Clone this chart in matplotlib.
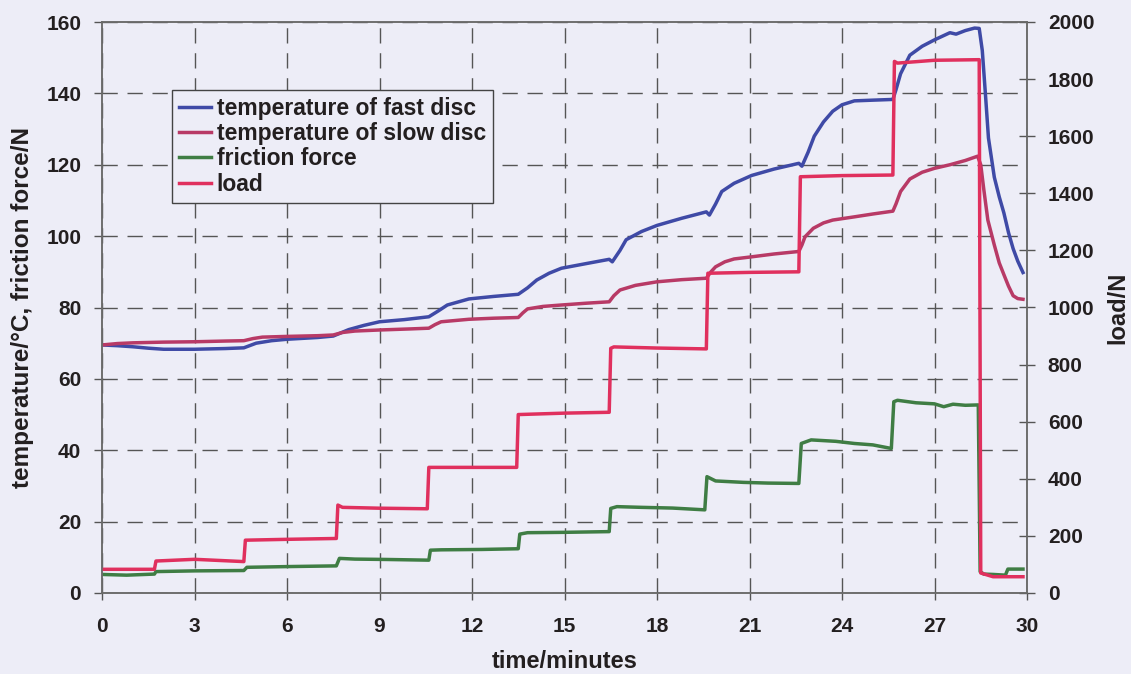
import matplotlib
matplotlib.use("Agg")
import matplotlib.pyplot as plt

# ---- data -------------------------------------------------------------
# time in minutes
t_fast = [0, 0.5, 1.0, 1.5, 2.0, 3.0, 4.0, 4.6, 5.0, 5.5, 6.0, 7.0, 7.5, 8.0, 8.5, 9.0,
          9.8, 10.6, 10.9, 11.2, 11.9, 12.7, 13.5, 13.8, 14.1, 14.5, 14.9, 15.7, 16.45,
          16.55, 16.8, 17.0, 17.5, 18.0, 18.8, 19.6, 19.7, 19.9, 20.1, 20.5, 21.07, 21.8,
          22.6, 22.7, 22.9, 23.1, 23.4, 23.7, 24.0, 24.4, 25.0, 25.65, 25.75, 25.9, 26.2,
          26.6, 27.0, 27.5, 27.7, 28.0, 28.3, 28.45, 28.55, 28.65, 28.75, 28.94, 29.1,
          29.25, 29.4, 29.55, 29.7, 29.87]
temp_fast = [69.5, 69.3, 69.0, 68.6, 68.3, 68.3, 68.5, 68.7, 70.0, 70.7, 71.1, 71.6, 72.0,
             73.8, 75.0, 76.0, 76.6, 77.4, 79.0, 80.7, 82.4, 83.1, 83.7, 85.5, 87.7, 89.6,
             91.0, 92.3, 93.5, 92.8, 96.0, 99.0, 101.3, 103.0, 105.0, 106.8, 105.9, 109.0,
             112.5, 114.8, 117.0, 118.8, 120.4, 119.6, 123.5, 128.0, 132.0, 135.0, 136.8,
             137.9, 138.1, 138.3, 141.0, 145.5, 150.7, 153.2, 155.0, 157.0, 156.6, 157.6,
             158.3, 158.2, 152.0, 140.0, 127.5, 116.5, 111.0, 106.5, 101.0, 96.5, 93.0, 89.8]

t_slow = [0, 0.5, 1.0, 2.0, 3.0, 4.0, 4.6, 4.9, 5.2, 6.0, 7.0, 7.5, 7.8, 8.2, 9.0, 10.0,
          10.6, 10.8, 11.0, 11.9, 12.7, 13.5, 13.65, 13.8, 14.3, 14.9, 15.7, 16.45, 16.6,
          16.8, 17.3, 18.0, 18.8, 19.6, 19.75, 19.9, 20.2, 20.5, 21.07, 21.8, 22.6, 22.7,
          22.8, 23.07, 23.4, 23.7, 24.4, 25.0, 25.65, 25.75, 25.9, 26.2, 26.6, 27.0, 27.5,
          28.0, 28.4, 28.5, 28.6, 28.73, 28.94, 29.1, 29.26, 29.4, 29.55, 29.7, 29.87]
temp_slow = [69.5, 69.9, 70.1, 70.3, 70.4, 70.6, 70.7, 71.3, 71.7, 71.9, 72.1, 72.3, 73.0,
             73.4, 73.7, 74.0, 74.2, 75.2, 76.0, 76.7, 77.0, 77.2, 78.5, 79.6, 80.3, 80.7,
             81.2, 81.6, 83.3, 84.9, 86.2, 87.2, 87.8, 88.2, 90.0, 91.4, 92.8, 93.6, 94.2,
             95.0, 95.7, 97.5, 99.8, 102.2, 103.7, 104.5, 105.4, 106.2, 107.0, 109.0, 112.5,
             116.0, 117.9, 119.0, 120.0, 121.2, 122.4, 120.0, 113.0, 104.5, 97.5, 92.5, 89.0,
             86.0, 83.3, 82.5, 82.3]

t_fric = [0, 0.8, 1.7, 1.75, 3.0, 4.6, 4.7, 6.0, 7.6, 7.7, 8.2, 9.2, 10.6, 10.65, 11.0,
          12.3, 13.5, 13.55, 13.8, 15.0, 16.45, 16.5, 16.7, 17.5, 18.5, 19.55, 19.62, 19.9,
          20.8, 21.6, 22.6, 22.68, 23.0, 23.8, 24.4, 25.0, 25.3, 25.6, 25.68, 25.8, 26.4,
          27.0, 27.3, 27.6, 28.0, 28.42, 28.48, 28.6, 28.9, 29.3, 29.38, 29.87]
friction = [5.2, 5.0, 5.3, 6.0, 6.2, 6.3, 7.2, 7.4, 7.6, 9.7, 9.5, 9.4, 9.2, 12.0, 12.1,
            12.2, 12.4, 16.5, 16.9, 17.0, 17.2, 23.7, 24.2, 24.0, 23.8, 23.3, 32.6, 31.4,
            31.0, 30.8, 30.7, 41.9, 42.9, 42.5, 41.9, 41.5, 41.0, 40.5, 53.6, 54.0, 53.3,
            53.0, 52.2, 52.9, 52.6, 52.7, 6.0, 5.3, 5.2, 5.0, 6.7, 6.7]

t_load = [0, 1.7, 1.75, 3.0, 4.6, 4.65, 6.0, 7.6, 7.65, 7.8, 9.0, 10.55, 10.6, 12.0, 13.45,
          13.5, 15.0, 16.45, 16.5, 16.6, 18.0, 19.6, 19.65, 21.0, 22.6, 22.65, 24.0, 25.65,
          25.7, 25.8, 27.0, 28.45, 28.5, 28.9, 29.87]
load = [83, 83, 112, 118, 110, 185, 188, 191, 308, 300, 297, 295, 440, 440, 440, 625, 630,
        633, 857, 862, 858, 855, 1120, 1123, 1125, 1458, 1462, 1464, 1862, 1856, 1866, 1868,
        70, 57, 57]

x_ticks = list(range(0, 31, 3))
left_ticks = list(range(0, 161, 20))
right_ticks = list(range(0, 2001, 200))

labels = ["temperature of fast disc", "temperature of slow disc", "friction force", "load"]
colors = ["#3f4aa6", "#b83a66", "#3f7d44", "#e0305e"]

# ---- style ------------------------------------------------------------
bg = "#ededf7"
txt = "#231f20"
plt.rcParams["font.family"] = ["Liberation Sans", "DejaVu Sans"]
plt.rcParams["font.weight"] = "bold"

fig = plt.figure(figsize=(11.31, 6.74), dpi=100, facecolor=bg)
ax = fig.add_axes([102 / 1131, 1 - 593 / 674, 925 / 1131, 571 / 674], facecolor=bg)
ax2 = ax.twinx()
ax2.patch.set_visible(False)

lw = 2.5
l1, = ax.plot(t_fast, temp_fast, color=colors[0], lw=lw, solid_joinstyle="round")
l2, = ax.plot(t_slow, temp_slow, color=colors[1], lw=lw, solid_joinstyle="round")
l3, = ax.plot(t_fric, friction, color=colors[2], lw=lw, solid_joinstyle="round")
l4, = ax2.plot(t_load, load, color=colors[3], lw=lw, solid_joinstyle="round")

ax.set_xlim(0, 30)
ax.set_ylim(0, 160)
ax2.set_ylim(0, 2000)
ax.set_xticks(x_ticks)
ax.set_yticks(left_ticks)
ax2.set_yticks(right_ticks)

ax.grid(True, color="#555555", lw=1.0, linestyle=(0, (11, 7)))

for a in (ax, ax2):
    for s in a.spines.values():
        s.set_color("#6a6a6a")
        s.set_linewidth(1.1)

ax.tick_params(axis="y", direction="out", length=6, width=1, color="#555555",
               labelsize=15, labelcolor=txt, pad=9)
ax.tick_params(axis="x", direction="out", length=5, width=1, color="#555555",
               labelsize=15, labelcolor=txt, pad=12)
ax2.tick_params(axis="y", direction="inout", length=12, width=1, color="#555555",
                labelsize=15, labelcolor=txt, pad=9)
for lab in ax.get_xticklabels() + ax.get_yticklabels() + ax2.get_yticklabels():
    lab.set_fontweight("bold")

ax.set_xlabel("time/minutes", fontsize=17, fontweight="bold", color=txt, labelpad=10)
ax.set_ylabel("temperature/\u00b0C, friction force/N", fontsize=17.5, fontweight="bold",
              color=txt)
ax.yaxis.set_label_coords(-68 / 925, 0.5)
ax2.set_ylabel("load/N", fontsize=17, fontweight="bold", color=txt)
ax2.yaxis.set_label_coords(1 + 79 / 925, 0.5)

leg = ax.legend([l1, l2, l3, l4], labels, loc="upper left",
                bbox_to_anchor=(172 / 1131, 1 - 90 / 674), bbox_transform=fig.transFigure,
                borderaxespad=0, frameon=True, fancybox=False, facecolor=bg, framealpha=1,
                edgecolor="#444444", prop={"size": 16.5, "weight": "bold"},
                handlelength=1.4, handletextpad=0.25, labelspacing=0.1, borderpad=0.3)
leg.get_frame().set_linewidth(1.0)
for t in leg.get_texts():
    t.set_color(txt)
leg.set_zorder(10)

fig.savefig("out.png", dpi=100, facecolor=bg)
